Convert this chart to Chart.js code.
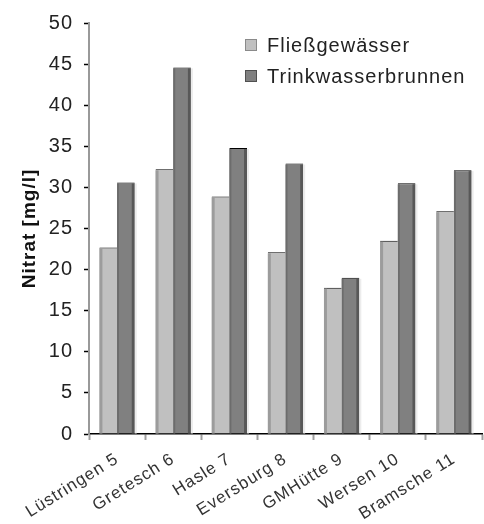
<!DOCTYPE html>
<html>
<head>
<meta charset="utf-8">
<script src="https://cdn.jsdelivr.net/npm/chart.js@4"></script>
<style>
  html, body { margin: 0; padding: 0; background: #fff; }
  #wrap { width: 484px; height: 524px; }
</style>
</head>
<body>
<div id="wrap"><canvas id="c" width="484" height="524"></canvas></div>
<script>
// Nitrat-Messstellen
const sites = ['Lüstringen 5', 'Gretesch 6', 'Hasle 7', 'Eversburg 8', 'GMHütte 9', 'Wersen 10', 'Bramsche 11'];
// Nitratgehalt in mg/l
const fliessgewaesser = [22.7, 32.2, 28.9, 22.1, 17.8, 23.5, 27.1];
const trinkwasserbrunnen = [30.6, 44.6, 34.8, 32.9, 19.0, 30.5, 32.1];
const seriesNames = ['Fließgewässer', 'Trinkwasserbrunnen'];
const yTicks = [0, 5, 10, 15, 20, 25, 30, 35, 40, 45, 50];

const FONT = '"Liberation Sans", Arial, sans-serif';
const fills = ['#c0c0c0', '#808080'];
const edges = ['#9c9c9c', '#585858'];

// slightly wider lettering for all chart text
const wideText = {
  id: 'wideText',
  beforeInit(chart) { chart.ctx.letterSpacing = '1px'; },
  beforeLayout(chart) { chart.ctx.letterSpacing = '1px'; },
  beforeDraw(chart) { chart.ctx.letterSpacing = '1px'; }
};

// shading strips on the bars for a slight relief look
const barShade = {
  id: 'barShade',
  afterDatasetsDraw(chart) {
    const ctx = chart.ctx;
    ctx.save();
    chart.data.datasets.forEach((ds, i) => {
      const meta = chart.getDatasetMeta(i);
      meta.data.forEach(el => {
        const p = el.getProps(['x', 'y', 'base', 'width'], true);
        const left = p.x - p.width / 2, right = p.x + p.width / 2;
        const top = p.y + 1, h = p.base - p.y - 1;
        if (i === 0) {
          ctx.fillStyle = edges[0];
          ctx.fillRect(left, top, 3, h);
        } else {
          ctx.fillStyle = '#6c6c6c';
          ctx.fillRect(left, top, 2, h);
          ctx.fillStyle = edges[1];
          ctx.fillRect(right - 3, top, 3, h);
          ctx.fillStyle = '#ececec';
          ctx.fillRect(right, top, 2, h);
        }
      });
    });
    ctx.restore();
  }
};

// legend inside the plot area
const innerLegend = {
  id: 'innerLegend',
  afterDraw(chart) {
    const ctx = chart.ctx;
    ctx.save();
    ctx.letterSpacing = '1px';
    ctx.font = '20px ' + FONT;
    ctx.textBaseline = 'middle';
    chart.data.datasets.forEach((ds, i) => {
      const y = 45 + i * 31;
      ctx.fillStyle = fills[i];
      ctx.fillRect(245, y - 6, 12, 12);
      ctx.strokeStyle = i === 0 ? '#8a8a8a' : '#505050';
      ctx.lineWidth = 1;
      ctx.strokeRect(245.5, y - 5.5, 11, 11);
      ctx.fillStyle = '#222';
      ctx.fillText(ds.label, 267, y + 1);
    });
    ctx.restore();
  }
};

new Chart(document.getElementById('c'), {
  type: 'bar',
  data: {
    labels: sites,
    datasets: [
      { label: seriesNames[0], data: fliessgewaesser, backgroundColor: fills[0],
        borderColor: '#000', borderWidth: { top: 1, left: 0, right: 0, bottom: 0 }, borderSkipped: 'start' },
      { label: seriesNames[1], data: trinkwasserbrunnen, backgroundColor: fills[1],
        borderColor: '#000', borderWidth: { top: 1, left: 0, right: 0, bottom: 0 }, borderSkipped: 'start' }
    ]
  },
  options: {
    responsive: false,
    animation: false,
    devicePixelRatio: 1,
    layout: { padding: { top: 17, right: 2, left: 0, bottom: 0 } },
    datasets: { bar: { categoryPercentage: 0.63, barPercentage: 1.0 } },
    plugins: { legend: { display: false }, tooltip: { enabled: false } },
    scales: {
      x: {
        offset: true,
        grid: { display: true, drawOnChartArea: false, offset: true, tickLength: 6, tickColor: '#a0a0a0', tickWidth: 2 },
        border: { color: '#000', width: 1.5 },
        ticks: { autoSkip: false, minRotation: 32, maxRotation: 32, padding: 9,
                 color: '#333', font: { family: FONT, size: 17 } },
        afterFit(s) { s.height = 90; }
      },
      y: {
        min: 0, max: 50,
        afterBuildTicks(s) { s.ticks = yTicks.map(v => ({ value: v })); },
        grid: { display: true, drawOnChartArea: false, tickLength: 5, tickColor: '#000', tickWidth: 1.5 },
        border: { color: '#999', width: 2 },
        ticks: { padding: 11, color: '#222', font: { family: FONT, size: 20 } },
        title: { display: true, text: 'Nitrat [mg/l]', color: '#111',
                 font: { family: FONT, size: 19, weight: 'bold' }, padding: { top: 18, bottom: 0 } },
        afterFit(s) { s.width = 89; }
      }
    }
  },
  plugins: [wideText, barShade, innerLegend]
});
</script>
</body>
</html>
